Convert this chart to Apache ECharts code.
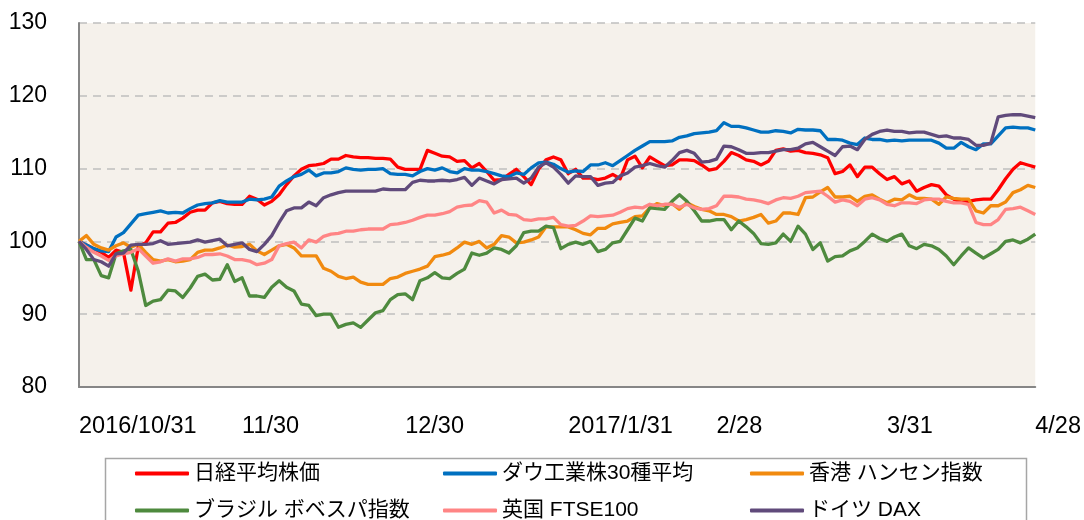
<!DOCTYPE html>
<html>
<head>
<meta charset="utf-8">
<script src="https://cdn.jsdelivr.net/npm/echarts@6/dist/echarts.min.js"></script>
<style>
html,body{margin:0;padding:0;background:#fff;}
#c{width:1084px;height:520px;}
</style>
</head>
<body>
<div id="c"></div>
<script>
// Series names
const names = ['日経平均株価','ダウ工業株30種平均','香港 ハンセン指数','ブラジル ボベスパ指数','英国 FTSE100','ドイツ DAX'];
const colors = ['#ff0000','#0070c0','#f18a0f','#4e8a3e','#ff8585','#604a7b'];

// Tick labels (category dates that receive a label, and their text)
const tickDates = ['2016/10/31','2016/11/30','2016/12/30','2017/1/31','2017/2/28','2017/3/31','2017/4/28'];
const tickText  = ['2016/10/31','11/30','12/30','2017/1/31','2/28','3/31','4/28'];

// Values (index, start = 100)
const nikkei = [
100,99.5,99,98.5,97.8,98.8,98.5,93.3,99.3,99.8,101.3,101.3,102.5,102.6,103.2,104,104.3,104.3,105.3,105.5,105.2,105.1,
105.1,106.2,105.8,105.0,105.5,106.4,107.8,109.0,109.9,110.4,110.5,110.7,111.3,111.3,111.8,111.6,111.5,111.5,111.4,111.4,111.3,110.2,
109.9,109.9,109.9,112.5,112.1,111.7,111.6,111.0,111.1,110.1,110.7,109.6,108.4,108.5,109.2,109.9,108.9,107.8,109.9,111.2,111.6,
111.2,109.3,109.9,108.7,108.7,108.5,108.7,109.2,108.6,111.2,111.7,110.1,111.6,111.0,110.4,110.5,111.2,111.2,111.1,110.5,109.8,110.0,
111.0,112.2,111.8,111.2,111.0,110.5,111.0,112.5,112.7,112.4,112.5,112.2,112.1,111.9,111.5,109.3,109.6,110.5,108.9,110.2,110.2,
109.3,108.5,108.9,107.9,108.3,106.9,107.4,107.8,107.6,106.4,105.8,105.4,105.5,105.7,105.8,105.8,107.1,108.6,109.9,110.8,110.5,110.2
];
const dow = [
100,99.5,99.0,98.7,98.6,100.6,101.2,102.4,103.6,103.8,104.0,104.2,103.9,104.0,103.9,104.5,105.0,105.2,105.3,105.6,105.4,105.4,
105.4,105.8,105.7,105.8,106.1,107.6,108.3,108.9,109.2,109.8,109.0,109.4,109.4,109.6,110.1,109.9,109.8,109.9,109.9,110.0,109.3,109.2,
109.2,109.0,109.6,110.0,109.8,110.1,109.6,109.4,110.0,109.8,109.8,109.6,109.3,109.0,108.9,109.4,109.2,110.1,110.8,110.9,110.6,
110.0,109.5,109.7,109.6,110.5,110.5,110.8,110.4,111.1,111.8,112.5,113.1,113.7,113.7,113.7,113.8,114.3,114.5,114.8,114.9,115.0,115.2,
116.3,115.8,115.8,115.6,115.3,115.0,115.0,115.2,115.1,114.9,115.4,115.3,115.3,115.2,114.0,114.0,113.9,113.5,113.3,114.2,114.0,
114.0,113.8,113.9,113.8,113.9,113.9,113.9,113.9,113.5,112.8,112.8,113.6,113.0,112.6,113.4,113.4,114.5,115.6,115.7,115.6,115.6,115.3
];
const hangseng = [
100,100.8,99.6,99.1,98.8,99.4,99.8,99.2,99.6,98.5,97.5,97.3,97.5,97.2,97.3,97.5,98.5,98.8,98.8,99.1,99.5,99.2,
99.3,99.6,98.7,98.2,98.8,99.4,99.6,99.1,98.0,98.0,98.0,96.3,95.9,95.2,94.9,95.1,94.4,94.1,94.1,94.1,94.9,95.1,
95.6,95.9,96.2,96.6,97.9,98.1,98.4,99.1,99.9,99.6,100.0,99.1,99.6,100.8,100.6,99.8,99.9,100.2,100.6,102.0,102.0,
102.0,102.0,101.6,101.1,100.9,101.8,101.8,102.4,102.6,102.8,103.4,103.5,104.6,105.2,104.9,105.2,104.4,105.3,104.8,104.4,104.2,103.7,
103.7,103.4,102.8,103.0,103.3,103.7,102.5,102.8,103.9,103.9,103.7,106.0,106.1,106.8,107.4,106.1,106.1,106.2,105.5,106.2,106.4,
105.8,105.3,105.8,105.7,106.4,105.9,105.9,105.8,105.1,106.1,105.9,105.8,105.8,104.2,103.9,104.9,104.9,105.4,106.7,107.1,107.7,107.4
];
const bovespa = [
100,97.5,97.5,95.3,95.0,98.3,98.7,98.9,95.9,91.2,91.8,92.0,93.3,93.2,92.3,93.6,95.2,95.5,94.7,94.8,96.8,94.5,
95.0,92.5,92.5,92.3,93.7,94.6,93.7,93.2,91.4,91.2,89.8,90.0,90.0,88.2,88.6,88.8,88.2,89.2,90.2,90.5,92.0,92.7,
92.8,92.0,94.6,95.0,95.7,95.0,94.9,95.6,96.2,98.4,98.1,98.4,99.1,98.9,98.4,99.4,101.2,101.4,101.4,102.1,101.9,
99.0,99.6,99.9,99.6,100.0,98.6,98.9,99.8,100.0,101.6,103.2,102.8,104.6,104.5,104.4,105.5,106.4,105.5,104.2,102.8,102.8,103.0,
103.0,101.6,102.8,102.0,101.1,99.7,99.6,99.8,101.0,100.0,102.1,101.0,98.9,99.8,97.3,97.9,98.0,98.7,99.1,100.0,101.0,
100.4,100.0,100.6,101.0,99.4,99.0,99.6,99.4,98.9,98.0,96.8,98.0,99.1,98.4,97.7,98.3,98.9,100.0,100.2,99.8,100.3,101.0
];
const ftse = [
100,99.2,98.5,98.0,97.4,98.0,98.3,98.5,99.0,98.0,97.0,97.2,97.6,97.3,97.6,97.6,97.8,98.2,98.2,98.3,98.0,97.5,
97.5,97.3,96.8,97.0,97.5,99.4,99.7,99.9,99.1,100.2,99.9,100.7,101.0,101.1,101.4,101.4,101.6,101.7,101.7,101.7,102.3,102.4,
102.6,102.9,103.3,103.6,103.6,103.8,104.1,104.7,104.9,105.0,105.6,105.4,103.9,104.3,103.7,103.6,103.0,102.9,103.1,103.1,103.3,
102.3,102.1,102.2,102.8,103.5,103.4,103.5,103.6,104.0,104.5,104.7,104.6,105.1,104.9,105.1,105.1,104.7,105.1,104.6,104.4,104.5,104.9,
106.2,106.2,106.1,105.8,105.7,105.5,105.2,105.7,106.0,105.9,106.2,106.7,106.8,106.9,106.2,105.4,105.7,105.5,104.9,105.8,106.0,
105.7,105.1,104.9,105.3,105.3,105.2,105.7,105.8,105.8,105.5,105.3,105.3,105.1,102.6,102.3,102.3,103.0,104.4,104.5,104.7,104.2,103.7
];
const dax = [
100,98.9,97.5,97.2,96.6,98.3,98.4,99.5,99.6,99.6,99.7,100.1,99.6,99.7,99.8,99.9,100.2,99.9,100.1,100.3,99.4,99.6,
99.8,98.9,98.6,99.6,100.8,102.6,104.2,104.6,104.6,105.4,104.9,106.0,106.4,106.7,106.9,106.9,106.9,106.9,106.9,107.2,107.1,107.1,
107.1,108.1,108.4,108.3,108.3,108.4,108.3,108.5,108.8,107.7,108.7,108.3,107.9,108.5,108.6,108.7,108.0,108.7,110.2,110.8,110.2,
109.2,108.0,109.0,108.9,108.9,107.7,108.0,108.1,109.0,109.4,110.2,110.4,110.7,110.4,110.2,111.1,112.2,112.5,112.1,110.9,111.0,111.3,
113.1,113.0,112.6,112.1,112.1,112.2,112.2,112.4,112.6,112.6,112.8,113.4,113.6,113.0,112.4,111.8,113.0,113.1,112.6,114.0,114.7,
115.1,115.3,115.1,115.1,114.9,115.0,115.0,114.7,114.4,114.5,114.2,114.2,114.0,113.2,113.2,113.5,117.1,117.3,117.4,117.4,117.2,117.0
];
const seriesValues = [nikkei, dow, hangseng, bovespa, ftse, dax];

// Categories: business days from 2016/10/31 to 2017/4/28
const categories = [];
(function(){
  const d = new Date(Date.UTC(2016, 9, 31));
  const end = Date.UTC(2017, 3, 28);
  while (d.getTime() <= end) {
    const wd = d.getUTCDay();
    if (wd !== 0 && wd !== 6) {
      categories.push(d.getUTCFullYear() + '/' + (d.getUTCMonth()+1) + '/' + d.getUTCDate());
    }
    d.setUTCDate(d.getUTCDate() + 1);
  }
})();

const FONT = '"Liberation Sans", Arial, "Noto Sans CJK JP", sans-serif';
const chart = echarts.init(document.getElementById('c'), null, {renderer:'canvas'});

// legend grid: 3 columns x 2 rows
const legendCols = [135, 443, 750];
const legendRows = [463, 500];
const legendOrder = [[0,1,2],[3,4,5]];
const legends = [];
legendOrder.forEach(function(row, r){
  row.forEach(function(si, c){
    legends.push({
      orient: 'horizontal', left: legendCols[c], top: legendRows[r],
      icon: 'roundRect', itemWidth: 54, itemHeight: 4, padding: 0,
      textStyle: {fontSize: 21, color: '#000', fontFamily: FONT},
      data: [names[si]]
    });
  });
});

chart.setOption({
  animation: false,
  backgroundColor: '#ffffff',
  grid: {left: 79, top: 23, width: 957, height: 364, show: true, backgroundColor: '#f5f1eb', borderWidth: 0, containLabel: false},
  legend: legends,
  graphic: [{
    type: 'rect', left: 103, top: 456, silent: true,
    shape: {width: 921, height: 100},
    style: {fill: 'none', stroke: '#a6a6a6', lineWidth: 1.5}
  }],
  xAxis: {
    type: 'category', data: categories, boundaryGap: false,
    axisLine: {show: true, lineStyle: {color: '#868686', width: 2}},
    axisTick: {show: false},
    splitLine: {show: false},
    axisLabel: {
      interval: function(idx, val){ return tickDates.indexOf(val) >= 0; },
      formatter: function(val){ const k = tickDates.indexOf(val); return k >= 0 ? tickText[k] : ''; },
      align: 'left', margin: 28, fontSize: 23.5, color: '#000', fontFamily: FONT,
      showMinLabel: true, showMaxLabel: true
    }
  },
  yAxis: {
    type: 'value', min: 80, max: 130, interval: 10,
    axisLine: {show: true, lineStyle: {color: '#868686', width: 2}},
    axisTick: {show: false},
    axisLabel: {margin: 32, fontSize: 23, color: '#000', fontFamily: FONT},
    splitLine: {show: true, lineStyle: {color: '#bfbfbf', width: 1.5, type: [8, 6]}}
  },
  series: names.map(function(n, k){
    return {
      name: n, type: 'line', data: seriesValues[k], showSymbol: false, symbol: 'none',
      color: colors[k],
      lineStyle: {color: colors[k], width: 3.3, join: 'round'},
      z: 2 + k
    };
  })
});
</script>
</body>
</html>
